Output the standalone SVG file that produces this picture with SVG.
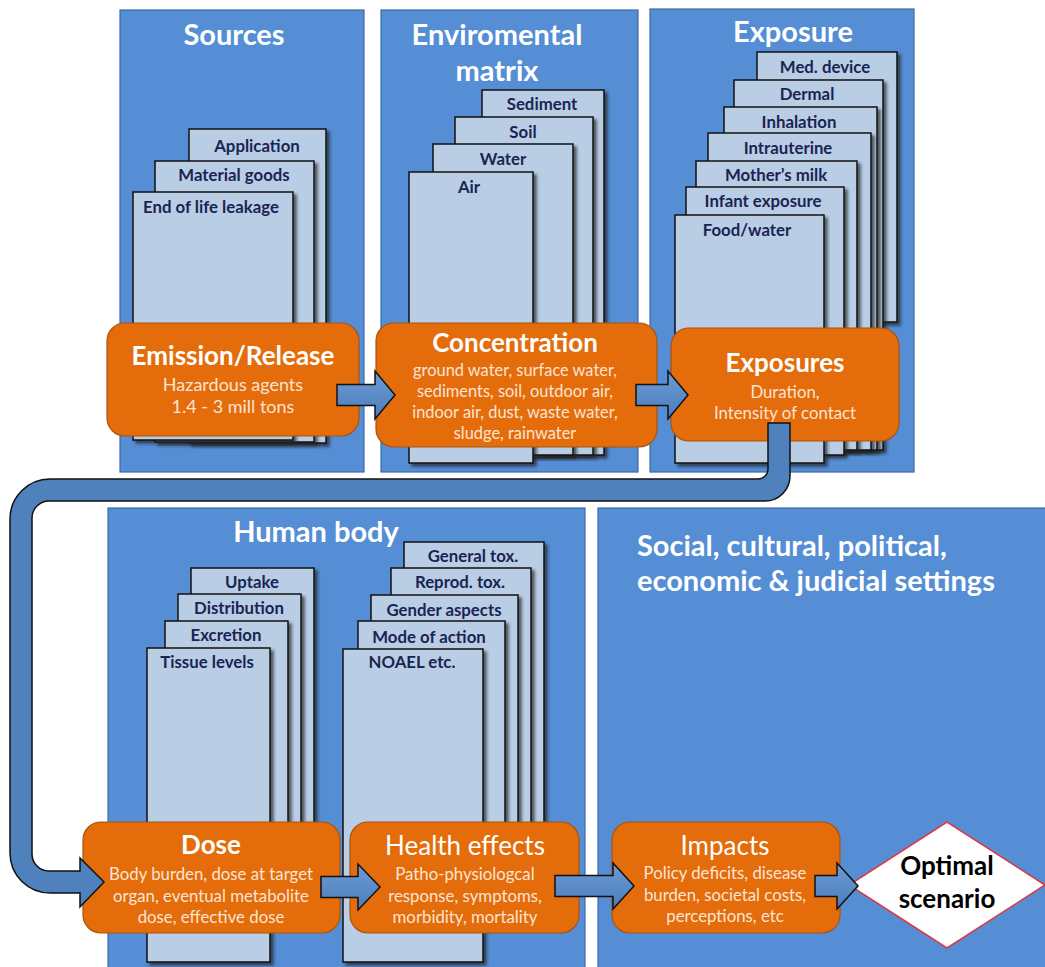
<svg xmlns="http://www.w3.org/2000/svg" width="1045" height="967" viewBox="0 0 1045 967">
<defs>
<style>
text{font-family:Lato,"Liberation Sans",sans-serif;text-anchor:middle}
.panel{fill:#558ED5;stroke:#3B6AA8;stroke-width:1.2}
.ptitle{font-weight:700;font-size:29px;fill:#fff}
.card{fill:#B9CDE5;stroke:#111;stroke-width:1.5;filter:url(#sh)}
.clabel{font-weight:700;font-size:16.8px;fill:#1A2452}
.box{fill:#E46C0A;stroke:#A8540F;stroke-width:1.2}
.btitle{font-weight:700;font-size:26px;fill:#fff}
.btitler{font-weight:400;font-size:26px;fill:#fff}
.bsub{font-size:16.8px;fill:#FCE4D6}
.bsub18{font-size:18px;fill:#FCE4D6}
.bsub16{font-size:16.4px;fill:#FCE4D6}
.arrow{fill:url(#ag);stroke:#111;stroke-width:1.5;stroke-linejoin:miter}
.band{fill:#4F81BD;stroke:#111;stroke-width:1.5}
</style>
<filter id="sh" x="-10%" y="-10%" width="130%" height="130%">
<feDropShadow dx="3" dy="3" stdDeviation="1.5" flood-color="#222" flood-opacity="0.7"/>
</filter>
<linearGradient id="ag" x1="0" y1="0" x2="0" y2="1">
<stop offset="0" stop-color="#6D9CD6"/>
<stop offset="1" stop-color="#4A7DBA"/>
</linearGradient>
</defs>

<g id="panel-sources">
<rect class="panel" x="120" y="10" width="244" height="462"/>
<text class="ptitle" x="234" y="45">Sources</text>
</g>
<g id="panel-environment">
<rect class="panel" x="381" y="10" width="257" height="462"/>
<text class="ptitle" x="497" y="45">Enviromental</text>
<text class="ptitle" x="497" y="81">matrix</text>
</g>
<g id="panel-exposure">
<rect class="panel" x="650" y="9" width="264" height="463"/>
<text class="ptitle" x="793" y="42">Exposure</text>
</g>
<g id="panel-human-body">
<rect class="panel" x="108" y="508" width="477" height="462"/>
<text class="ptitle" x="316" y="542">Human body</text>
</g>
<g id="panel-social">
<rect class="panel" x="598" y="508" width="452" height="462"/>
<text class="ptitle" x="637" y="556" style="text-anchor:start">Social, cultural, political,</text>
<text class="ptitle" x="637" y="591" style="text-anchor:start">economic &amp; judicial settings</text>
</g>

<g id="cards-sources">
<rect class="card" x="189" y="129" width="137" height="314"/>
<text class="clabel" x="257" y="152">Application</text>
<rect class="card" x="155" y="161" width="159" height="281"/>
<text class="clabel" x="234" y="181">Material goods</text>
<rect class="card" x="133" y="192" width="160" height="248"/>
<text class="clabel" x="211" y="213">End of life leakage</text>
</g>

<g id="cards-environment">
<rect class="card" x="482" y="90" width="122" height="365"/>
<text class="clabel" x="542" y="110">Sediment</text>
<rect class="card" x="455" y="117" width="138" height="338"/>
<text class="clabel" x="523" y="138">Soil</text>
<rect class="card" x="433" y="144" width="140" height="311"/>
<text class="clabel" x="503" y="165">Water</text>
<rect class="card" x="409" y="172" width="124" height="291"/>
<text class="clabel" x="469" y="193">Air</text>
</g>

<g id="cards-exposure">
<rect class="card" x="757" y="52" width="140" height="270"/>
<text class="clabel" x="825" y="73">Med. device</text>
<rect class="card" x="734" y="80" width="149" height="370"/>
<text class="clabel" x="807" y="100">Dermal</text>
<rect class="card" x="724" y="107" width="153" height="343"/>
<text class="clabel" x="799" y="128">Inhalation</text>
<rect class="card" x="708" y="133" width="163" height="317"/>
<text class="clabel" x="788" y="154">Intrauterine</text>
<rect class="card" x="696" y="161" width="161" height="289"/>
<text class="clabel" x="776" y="181">Mother’s milk</text>
<rect class="card" x="686" y="187" width="158" height="268"/>
<text class="clabel" x="763" y="207">Infant exposure</text>
<rect class="card" x="675" y="215" width="149" height="248"/>
<text class="clabel" x="747" y="236">Food/water</text>
</g>

<g id="cards-dose">
<rect class="card" x="191" y="568" width="123" height="357"/>
<text class="clabel" x="252" y="588">Uptake</text>
<rect class="card" x="178" y="594" width="123" height="331"/>
<text class="clabel" x="239" y="614">Distribution</text>
<rect class="card" x="165" y="621" width="123" height="304"/>
<text class="clabel" x="226" y="641">Excretion</text>
<rect class="card" x="147" y="648" width="123" height="314"/>
<text class="clabel" x="207" y="668">Tissue levels</text>
</g>

<g id="cards-health">
<rect class="card" x="404" y="542" width="140" height="383"/>
<text class="clabel" x="473" y="562">General tox.</text>
<rect class="card" x="391" y="568" width="140" height="357"/>
<text class="clabel" x="460" y="588">Reprod. tox.</text>
<rect class="card" x="371" y="595" width="147" height="330"/>
<text class="clabel" x="444" y="616">Gender aspects</text>
<rect class="card" x="358" y="621" width="147" height="304"/>
<text class="clabel" x="429" y="643">Mode of action</text>
<rect class="card" x="343" y="649" width="140" height="313"/>
<text class="clabel" x="412" y="668">NOAEL etc.</text>
</g>

<g id="node-emission">
<rect class="box" x="107" y="323" width="252" height="113" rx="18"/>
<text class="btitle" x="233" y="365">Emission/Release</text>
<text class="bsub18" x="233" y="391">Hazardous agents</text>
<text class="bsub18" x="233" y="413">1.4 - 3 mill tons</text>
</g>
<g id="node-concentration">
<rect class="box" x="376" y="323" width="281" height="124" rx="18"/>
<text class="btitle" x="515" y="352">Concentration</text>
<text class="bsub16" x="515" y="376">ground water, surface water,</text>
<text class="bsub16" x="515" y="397">sediments, soil, outdoor air,</text>
<text class="bsub16" x="515" y="418">indoor air, dust, waste water,</text>
<text class="bsub16" x="515" y="439">sludge, rainwater</text>
</g>
<g id="node-exposures">
<rect class="box" x="671" y="328" width="228" height="113" rx="18"/>
<text class="btitle" x="785" y="372">Exposures</text>
<text class="bsub" x="785" y="398">Duration,</text>
<text class="bsub" x="785" y="419">Intensity of contact</text>
</g>
<g id="node-dose">
<rect class="box" x="83" y="822" width="257" height="111" rx="18"/>
<text class="btitle" x="211" y="854">Dose</text>
<text class="bsub" x="211" y="880">Body burden, dose at target</text>
<text class="bsub" x="211" y="902">organ, eventual metabolite</text>
<text class="bsub" x="211" y="923">dose, effective dose</text>
</g>
<g id="node-health">
<rect class="box" x="350" y="822" width="229" height="111" rx="18"/>
<text class="btitler" x="465" y="855">Health effects</text>
<text class="bsub" x="465" y="880">Patho-physiologcal</text>
<text class="bsub" x="465" y="902">response, symptoms,</text>
<text class="bsub" x="465" y="923">morbidity, mortality</text>
</g>
<g id="node-impacts">
<rect class="box" x="612" y="822" width="228" height="111" rx="18"/>
<text class="btitler" x="725" y="855">Impacts</text>
<text class="bsub" x="725" y="879">Policy deficits, disease</text>
<text class="bsub" x="725" y="901">burden, societal costs,</text>
<text class="bsub" x="725" y="922">perceptions, etc</text>
</g>
<g id="node-optimal">
<polygon points="947,822 1045,885 947,948 849,885" fill="#fff" stroke="#D93A4A" stroke-width="1.5"/>
<text x="947" y="875" style="font-weight:700;font-size:26px;fill:#000">Optimal</text>
<text x="947" y="908" style="font-weight:700;font-size:26px;fill:#000">scenario</text>
</g>

<g id="connectors">
<path class="arrow" d="M337,384.5 L375,384.5 L375,371 L395,395 L375,419 L375,405.5 L337,405.5 Z"/>
<path class="arrow" d="M636,384.5 L668,384.5 L668,371 L688,395 L668,419 L668,405.5 L636,405.5 Z"/>
<path class="band" d="M768,423 L790,423 L790,476 A25,25 0 0 1 765,501 L49,501 A17,17 0 0 0 32,518 L32,854 A17,17 0 0 0 49,871 L80,871 L80,858 L104,882 L80,907 L80,893 L50,893 A40,40 0 0 1 10,853 L10,519 A40,40 0 0 1 50,479 L758,479 A10,10 0 0 0 768,469 Z"/>
<path class="arrow" d="M321,876.5 L358,876.5 L358,864 L380,887 L358,910 L358,897.5 L321,897.5 Z"/>
<path class="arrow" d="M555,875.5 L613,875.5 L613,863 L634,886 L613,909 L613,896.5 L555,896.5 Z"/>
<path class="arrow" d="M815,875.5 L837,875.5 L837,863 L858,886 L837,909 L837,896.5 L815,896.5 Z"/>
</g>
</svg>
